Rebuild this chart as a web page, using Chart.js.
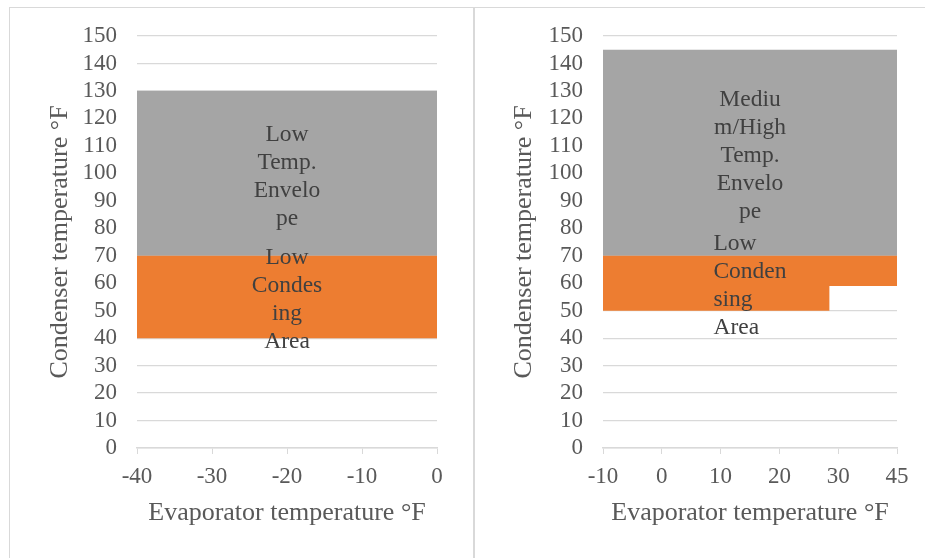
<!DOCTYPE html>
<html>
<head>
<meta charset="utf-8">
<script src="https://cdn.jsdelivr.net/npm/chart.js@4.4.0/dist/chart.umd.min.js"></script>
<style>
  html, body { margin: 0; padding: 0; background: #fff; width: 925px; height: 558px; overflow: hidden; }
  .panel { position: absolute; top: 7px; height: 620px; border: 1.5px solid #d9d9d9; box-sizing: border-box; }
  canvas { position: absolute; }
</style>
</head>
<body>
<div class="panel" style="left:9px;width:464.5px;"></div>
<div class="panel" style="left:473.5px;width:520px;"></div>
<canvas id="lowTemp" width="462" height="550" style="left:10px;top:8px;"></canvas>
<canvas id="medTemp" width="449" height="550" style="left:476px;top:8px;"></canvas>
<script>
// ---- Low temperature envelope (evaporator -40..0 °F) ----
const lowEvapTemps   = [-40, -30, -20, -10, 0];
const lowCondBase    = [40, 40, 40, 40, 40];
const lowCondTop     = [70, 70, 70, 70, 70];
const lowEnvelopeTop = [130, 130, 130, 130, 130];

// ---- Medium/high temperature envelope (evaporator -10..45 °F, category axis) ----
const medCategories     = ['-10', '0', '10', '20', '30', '45'];
const medCategoryValues = [-10, 0, 10, 20, 30, 45];
const medCondBaseEvap   = [-10, 28.5, 28.5, 45];
const medCondBase       = [50, 50, 59, 59];
const medTopEvap        = [-10, 45];
const medCondTop        = [70, 70];
const medEnvelopeTop    = [145, 145];

// ---- Condenser axis ----
const condTicks = [0, 10, 20, 30, 40, 50, 60, 70, 80, 90, 100, 110, 120, 130, 140, 150];

// ---- Region captions ----
const lowEnvelopeCaption = ['Low', 'Temp.', 'Envelo', 'pe'];
const lowCondCaption     = ['Low', 'Condes', 'ing', 'Area'];
const medEnvelopeCaption = ['Mediu', 'm/High', 'Temp.', 'Envelo', 'pe'];
const medCondCaption     = ['Low', 'Conden', 'sing', 'Area'];

const GRAY = '#a5a5a5';
const ORANGE = '#ed7d31';
const AXIS_TEXT = '#595959';
const GRID = '#d9d9d9';
const SERIF = '"Liberation Serif", "Times New Roman", serif';

// evaporator temperature -> position on the evenly spaced category axis
function toCategoryPos(v) {
  const c = medCategoryValues;
  for (let i = 0; i < c.length - 1; i++) {
    if (v >= c[i] && v <= c[i + 1]) return i + (v - c[i]) / (c[i + 1] - c[i]);
  }
  return v < c[0] ? 0 : c.length - 1;
}

function pts(xs, ys, mapX) {
  return xs.map((x, i) => ({ x: mapX ? mapX(x) : x, y: ys[i] }));
}

// draws multi-line captions centred inside a band of the chart
const bandCaptions = {
  id: 'bandCaptions',
  afterDatasetsDraw(chart, args, opts) {
    const { ctx, scales: { x, y } } = chart;
    const cx = x.getPixelForValue((x.min + x.max) / 2);
    ctx.save();
    ctx.font = opts.font;
    ctx.fillStyle = opts.color;
    ctx.textBaseline = 'middle';
    for (const item of opts.items) {
      const cy = y.getPixelForValue((item.from + item.to) / 2) + opts.shift;
      const n = item.lines.length;
      const widest = Math.max(...item.lines.map(l => ctx.measureText(l).width));
      item.lines.forEach((line, i) => {
        const ly = cy + (i - (n - 1) / 2) * opts.lineHeight;
        if (item.align === 'block') {
          ctx.textAlign = 'left';
          ctx.fillText(line, cx - widest / 2, ly);
        } else {
          ctx.textAlign = 'center';
          ctx.fillText(line, cx, ly);
        }
      });
    }
    ctx.restore();
  }
};

function buildOptions(p) {
  return {
    responsive: false,
    animation: false,
    devicePixelRatio: 1,
    layout: { padding: { top: 28, right: p.padRight, left: 0, bottom: 0 } },
    elements: { point: { radius: 0 }, line: { borderWidth: 0, tension: 0 } },
    plugins: {
      legend: { display: false },
      tooltip: { enabled: false },
      bandCaptions: {
        font: '23.5px ' + SERIF,
        color: '#404040',
        lineHeight: 28,
        shift: 3,
        items: p.captions
      }
    },
    scales: {
      x: {
        type: 'linear',
        min: p.xMin, max: p.xMax,
        afterFit(s) { s.height = 110; },
        afterBuildTicks(s) { s.ticks = p.xTicks.map(v => ({ value: v })); },
        ticks: {
          callback: p.xLabel,
          font: { family: SERIF, size: 23 },
          color: AXIS_TEXT,
          padding: 9,
          maxRotation: 0,
          autoSkip: false
        },
        grid: { drawOnChartArea: false, drawTicks: true, tickLength: 6, color: GRID, lineWidth: 1 },
        border: { display: true, color: GRID, width: 1.5 },
        title: {
          display: true,
          text: 'Evaporator temperature °F',
          font: { family: SERIF, size: 26 },
          color: AXIS_TEXT,
          padding: { top: 0, bottom: 29 }
        }
      },
      y: {
        type: 'linear',
        min: condTicks[0], max: condTicks[condTicks.length - 1],
        afterFit(s) { s.width = 127; s.paddingTop = 0; s.paddingBottom = 0; },
        afterBuildTicks(s) { s.ticks = condTicks.map(v => ({ value: v })); },
        ticks: {
          font: { family: SERIF, size: 23 },
          color: AXIS_TEXT,
          padding: 20,
          autoSkip: false
        },
        grid: { drawTicks: false, color: GRID, lineWidth: 1.2 },
        border: { display: false },
        title: {
          display: true,
          text: 'Condenser temperature °F',
          font: { family: SERIF, size: 26 },
          color: AXIS_TEXT,
          padding: { top: p.yTitlePad, bottom: 0 }
        }
      }
    }
  };
}

function areaDatasets(base, condTop, envTop) {
  return [
    { data: base, borderColor: 'rgba(0,0,0,0)', fill: false },
    { data: condTop, borderColor: 'rgba(0,0,0,0)', backgroundColor: ORANGE, fill: '-1' },
    { data: envTop, borderColor: 'rgba(0,0,0,0)', backgroundColor: GRAY, fill: '-1' }
  ];
}

new Chart(document.getElementById('lowTemp'), {
  type: 'line',
  data: {
    datasets: areaDatasets(
      pts(lowEvapTemps, lowCondBase),
      pts(lowEvapTemps, lowCondTop),
      pts(lowEvapTemps, lowEnvelopeTop)
    )
  },
  options: buildOptions({
    padRight: 35,
    yTitlePad: 35,
    xMin: lowEvapTemps[0],
    xMax: lowEvapTemps[lowEvapTemps.length - 1],
    xTicks: lowEvapTemps,
    xLabel: v => String(v),
    captions: [
      { lines: lowEnvelopeCaption, from: lowCondTop[0], to: lowEnvelopeTop[0], align: 'center' },
      { lines: lowCondCaption, from: lowCondBase[0], to: lowCondTop[0], align: 'center' }
    ]
  }),
  plugins: [bandCaptions]
});

new Chart(document.getElementById('medTemp'), {
  type: 'line',
  data: {
    datasets: areaDatasets(
      pts(medCondBaseEvap, medCondBase, toCategoryPos),
      pts(medTopEvap, medCondTop, toCategoryPos),
      pts(medTopEvap, medEnvelopeTop, toCategoryPos)
    )
  },
  options: buildOptions({
    padRight: 28,
    yTitlePad: 33,
    xMin: 0,
    xMax: medCategories.length - 1,
    xTicks: medCategories.map((_, i) => i),
    xLabel: v => medCategories[v],
    captions: [
      { lines: medEnvelopeCaption, from: medCondTop[0], to: medEnvelopeTop[0], align: 'center' },
      { lines: medCondCaption, from: Math.min(...medCondBase), to: medCondTop[0], align: 'block' }
    ]
  }),
  plugins: [bandCaptions]
});
</script>
</body>
</html>
